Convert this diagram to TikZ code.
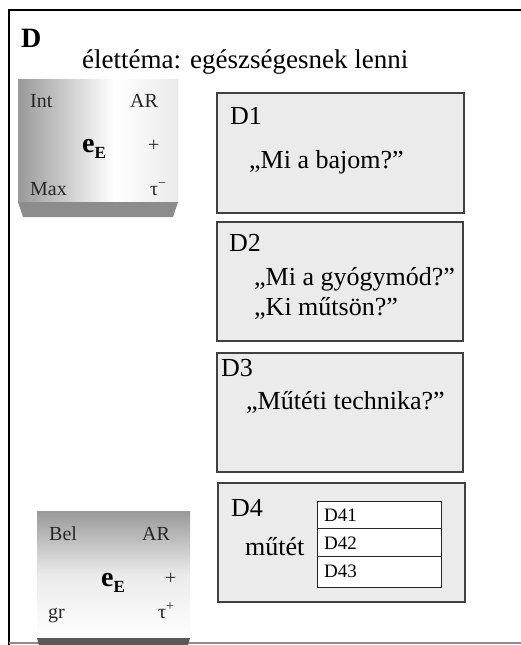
\documentclass[tikz,border=0pt]{standalone}
\usepackage{fontspec}
\setmainfont{Liberation Serif}
\usetikzlibrary{positioning}
\definecolor{boxfill}{HTML}{EBEBEB}
\definecolor{boxline}{HTML}{404040}
\pgfdeclarehorizontalshading{cubeA}{100bp}{color(0bp)=(black!40); color(25bp)=(black!40); color(55bp)=(white); color(75bp)=(black!8); color(100bp)=(black!8)}
\pgfdeclareverticalshading{cubeB}{100bp}{color(0bp)=(white); color(25bp)=(white); color(50bp)=(black!8); color(75bp)=(black!40); color(100bp)=(black!40)}
\newcommand{\eE}{\textbf{e}\raisebox{-0.22em}{\fontsize{17}{20}\selectfont\bfseries E}}
\tikzset{
  qbox/.style={draw=boxline, line width=1.2pt, fill=boxfill},
  lab/.style={inner sep=0pt, anchor=base west, font=\fontsize{26}{30}\selectfont},
  cubetxt/.style={inner sep=0pt, anchor=base west, font=\fontsize{20}{24}\selectfont, text=black!85},
  eetxt/.style={inner sep=0pt, anchor=base west, font=\fontsize{28}{32}\selectfont},
  celltxt/.style={inner sep=0pt, anchor=base west, font=\fontsize{19}{22}\selectfont},
  cell/.style={draw=black!85, line width=0.8pt, fill=white}
}
\begin{document}
\begin{tikzpicture}[x=1pt,y=-1pt]
\useasboundingbox (0,0) rectangle (521,645);
\fill[white] (0,0) rectangle (521,645);
% frame
\draw[line width=1.5pt] (9,645) -- (9,10) -- (521,10);
\draw[line width=1.2pt, black!45] (9,643) -- (521,643);
% title
\node[inner sep=0pt, anchor=base west, font=\fontsize{28}{32}\selectfont\bfseries] (title) at (21,47) {D};
\node[inner sep=0pt, anchor=base west, font=\fontsize{27}{32}\selectfont] (theme) at (82,68) {élettéma: egészségesnek lenni};
% top cube
\shade[shading=cubeA] (18,79) rectangle (178,202);
\fill[black!45] (18,202) -- (178,202) -- (173,217) -- (23,217) -- cycle;
\node[cubetxt] (int) at (30,107) {Int};
\node[cubetxt] (ar1) at (130,107) {AR};
\node[eetxt] (e1) at (82,152) {\eE};
\node[cubetxt] (p1) at (148,151) {+};
\node[cubetxt] (max) at (30,195) {Max};
\node[cubetxt] (t1) at (150,195) {τ\textsuperscript{−}};
% bottom cube
\shade[shading=cubeB] (37,511) rectangle (190,638);
\fill[black!65] (37,638) -- (190,638) -- (188,645) -- (39,645) -- cycle;
\node[cubetxt] (bel) at (49,540) {Bel};
\node[cubetxt] (ar2) at (142,540) {AR};
\node[eetxt] (e2) at (101,586) {\eE};
\node[cubetxt] (p2) at (165,584) {+};
\node[cubetxt] (gr) at (48,618) {gr};
\node[cubetxt] (t2) at (158,618) {τ\textsuperscript{+}};
% D1
\draw[qbox] (217,93) rectangle (464,213);
\node[lab] (d1) at (230,124) {D1};
\node[lab] (q1) at (249,168) {„Mi a bajom?”};
% D2
\draw[qbox] (217,222) rectangle (463,341);
\node[lab] (d2) at (229,251) {D2};
\node[lab] (q2a) at (254,285) {„Mi a gyógymód?”};
\node[lab] (q2b) at (254,315) {„Ki műtsön?”};
% D3
\draw[qbox] (217,353) rectangle (463,472);
\node[lab] (d3) at (221,376) {D3};
\node[lab] (q3) at (246,409) {„Műtéti technika?”};
% D4
\draw[qbox] (218,483) rectangle (465,602);
\node[lab] (d4) at (231,516) {D4};
\node[lab] (mutet) at (245,555) {műtét};
\draw[cell] (317,501) rectangle (441,528);
\draw[cell] (317,528) rectangle (441,556);
\draw[cell] (317,556) rectangle (441,587);
\node[celltxt] (d41) at (324,521) {D41};
\node[celltxt] (d42) at (324,549) {D42};
\node[celltxt] (d43) at (324,577) {D43};
\end{tikzpicture}
\end{document}
